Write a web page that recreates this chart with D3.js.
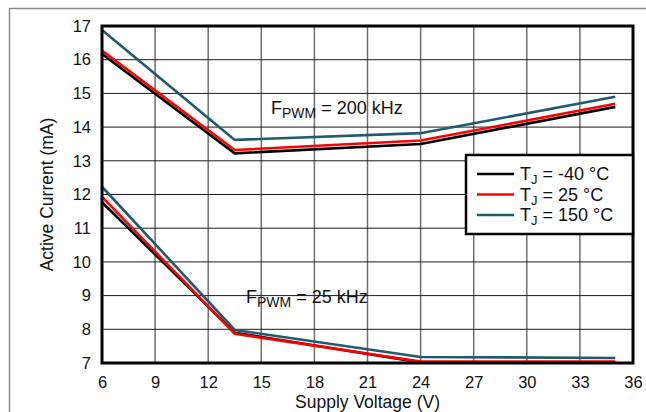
<!DOCTYPE html>
<html>
<head>
<meta charset="utf-8">
<script src="https://cdn.jsdelivr.net/npm/d3@7"></script>
<style>
  html, body { margin: 0; padding: 0; background: #fff; }
  svg { display: block; font-family: "Liberation Sans", Arial, sans-serif; }
</style>
</head>
<body>
<svg id="chart" width="646" height="412"></svg>
<script>
// Supply voltage points (V)
const voltages = [6, 13.5, 24, 35];

// Active current (mA), F_PWM = 200 kHz
const i200_m40 = [16.17, 13.22, 13.5, 14.6];
const i200_25 = [16.27, 13.32, 13.6, 14.69];
const i200_150 = [16.88, 13.62, 13.82, 14.9];

// Active current (mA), F_PWM = 25 kHz
const i25_m40 = [11.77, 7.9, 7.02, 7.02];
const i25_25 = [11.93, 7.87, 7.04, 7.04];
const i25_150 = [12.23, 7.98, 7.18, 7.15];

const xTicks = [6, 9, 12, 15, 18, 21, 24, 27, 30, 33, 36];
const yTicks = [7, 8, 9, 10, 11, 12, 13, 14, 15, 16, 17];

const seriesInfo = [
  { label: "-40 °C", color: "#000000", sets: [i200_m40, i25_m40] },
  { label: "25 °C", color: "#ff0000", sets: [i200_25, i25_25] },
  { label: "150 °C", color: "#1f5b6b", sets: [i200_150, i25_150] }
];

const svg = d3.select("#chart");
const margin = { top: 26, right: 13, bottom: 49, left: 102 };
const width = 646 - margin.left - margin.right;
const height = 412 - margin.top - margin.bottom;

// outer frame
svg.append("rect")
  .attr("x", 9.5).attr("y", 8.5)
  .attr("width", 650).attr("height", 420)
  .attr("fill", "none")
  .attr("stroke", "#8a8a8a")
  .attr("stroke-width", 1.5);

const g = svg.append("g")
  .attr("transform", `translate(${margin.left},${margin.top})`);

const x = d3.scaleLinear().domain([6, 36]).range([0, width]);
const y = d3.scaleLinear().domain([7, 17]).range([height, 0]);

// grid
g.append("g").selectAll("line")
  .data(xTicks.slice(1, -1))
  .join("line")
  .attr("x1", d => x(d)).attr("x2", d => x(d))
  .attr("y1", 0).attr("y2", height)
  .attr("stroke", "#6e6e6e")
  .attr("stroke-width", 1.5);

g.append("g").selectAll("line")
  .data(yTicks.slice(1, -1))
  .join("line")
  .attr("x1", 0).attr("x2", width)
  .attr("y1", d => y(d)).attr("y2", d => y(d))
  .attr("stroke", "#1a1a1a")
  .attr("stroke-width", 1);

// axes tick labels
const xAxis = g.append("g")
  .attr("transform", `translate(0,${height})`)
  .call(d3.axisBottom(x).tickValues(xTicks).tickSize(0).tickPadding(13));
xAxis.select(".domain").remove();
xAxis.selectAll("text")
  .attr("font-size", 16.5)
  .attr("font-family", "Liberation Sans, Arial, sans-serif")
  .attr("fill", "#111");

const yAxis = g.append("g")
  .call(d3.axisLeft(y).tickValues(yTicks).tickSize(0).tickPadding(11));
yAxis.select(".domain").remove();
yAxis.selectAll("text")
  .attr("font-size", 16.5)
  .attr("font-family", "Liberation Sans, Arial, sans-serif")
  .attr("fill", "#111");

// lines
const line = d3.line()
  .x((d, i) => x(voltages[i]))
  .y(d => y(d));

seriesInfo.forEach(s => {
  s.sets.forEach(vals => {
    g.append("path")
      .datum(vals)
      .attr("fill", "none")
      .attr("stroke", s.color)
      .attr("stroke-width", 2.6)
      .attr("stroke-linejoin", "miter")
      .attr("d", line);
  });
});

// plot border
g.append("rect")
  .attr("x", 0).attr("y", 0)
  .attr("width", width).attr("height", height)
  .attr("fill", "none")
  .attr("stroke", "#000")
  .attr("stroke-width", 3);

// annotations
function fpwm(xp, yp, rest) {
  const t = g.append("text")
    .attr("x", xp).attr("y", yp)
    .attr("font-size", 18)
    .attr("fill", "#111");
  t.append("tspan").text("F");
  t.append("tspan").attr("font-size", 14).attr("dy", 4).text("PWM");
  t.append("tspan").attr("dy", -4).text(rest);
}
fpwm(169, 88, " = 200 kHz");
fpwm(144, 277, " = 25 kHz");

// axis titles
svg.append("text")
  .attr("x", margin.left + width / 2)
  .attr("y", 407.5)
  .attr("text-anchor", "middle")
  .attr("font-size", 17.5)
  .attr("fill", "#111")
  .text("Supply Voltage (V)");

svg.append("text")
  .attr("transform", `translate(53,${margin.top + height / 2}) rotate(-90)`)
  .attr("text-anchor", "middle")
  .attr("font-size", 17.5)
  .attr("fill", "#111")
  .text("Active Current (mA)");

// legend
const legendW = 167, legendH = 79;
const legend = g.append("g")
  .attr("transform", `translate(${width - legendW},129)`);

legend.append("rect")
  .attr("width", legendW).attr("height", legendH)
  .attr("fill", "#fff")
  .attr("stroke", "#000")
  .attr("stroke-width", 2.5);

const items = legend.selectAll("g.item")
  .data(seriesInfo)
  .join("g")
  .attr("class", "item")
  .attr("transform", (d, i) => `translate(0,${19 + i * 20.5})`);

items.append("line")
  .attr("x1", 11).attr("x2", 48)
  .attr("stroke", d => d.color)
  .attr("stroke-width", 2.6);

const lt = items.append("text")
  .attr("x", 54).attr("y", 6)
  .attr("font-size", 18)
  .attr("fill", "#111");
lt.append("tspan").text("T");
lt.append("tspan").attr("font-size", 13).attr("dy", 4).text("J");
lt.append("tspan").attr("dy", -4).text(d => " = " + d.label);
</script>
</body>
</html>
